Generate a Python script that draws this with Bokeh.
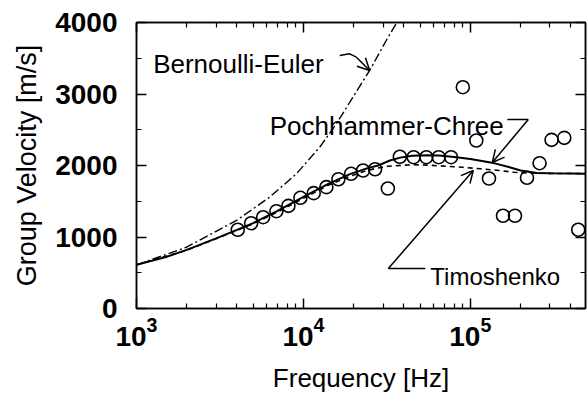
from bokeh.plotting import figure
from bokeh.models import (LogAxis, LinearAxis, Label, Arrow, OpenHead, FixedTicker,
                          SingleIntervalTicker)
from bokeh.embed import file_html
from bokeh.resources import INLINE

# ---- data ----
meas_f = [4043, 4862, 5738, 6891, 8133, 9594, 11527, 13730, 16205, 19305, 22784, 26880,
          32060, 37830, 45760, 54510, 64600, 76640, 90180, 108600, 129400, 157000,
          185200, 218600, 260000, 306800, 365600, 443300]
meas_v = [1101, 1193, 1277, 1361, 1436, 1548, 1613, 1697, 1808, 1884, 1930, 1948,
          1678, 2122, 2116, 2116, 2116, 2116, 3095, 2350, 1818, 1297,
          1297, 1828, 2032, 2359, 2387, 1101]

pc_f = [1000, 1500, 2000, 3000, 4000, 5000, 7000, 10000, 14000, 19000, 24000, 28000,
        33000, 38000, 45000, 55000, 65000, 80000, 100000, 120000, 140000, 170000,
        200000, 250000, 300000, 400000, 490000]
pc_v = [610, 720, 820, 980, 1100, 1195, 1365, 1560, 1740, 1880, 1960, 2000,
        2070, 2110, 2135, 2145, 2140, 2120, 2090, 2060, 2030, 1980,
        1930, 1895, 1890, 1888, 1886]

ti_f = [1000, 2000, 3000, 5000, 7000, 10000, 14000, 19000, 24000, 28000, 32000, 40000,
        46000, 55000, 72000, 90000, 115000, 150000, 182000, 220000, 300000, 490000]
ti_v = [610, 815, 975, 1185, 1350, 1540, 1720, 1850, 1930, 1965, 1990, 2005,
        2010, 2005, 1990, 1975, 1954, 1930, 1906, 1895, 1890, 1886]

be_f = [1000, 1992, 3971, 6281, 9078, 12530, 15760, 19840, 24950, 31410, 36900]
be_v = [610, 857, 1231, 1558, 1884, 2256, 2583, 2959, 3329, 3752, 4028]

x_major = [1e3, 1e4, 1e5]
x_minor = [m * 10 ** k for k in (3, 4, 5) for m in range(2, 10)]

FONT = "Liberation Sans"

p = figure(width=588, height=401, x_axis_type="log", x_range=(1000, 4.9e5),
           y_range=(0, 4000), output_backend="svg", toolbar_location=None,
           min_border_left=136, min_border_right=3, min_border_top=22,
           min_border_bottom=93, background_fill_color="white",
           border_fill_color="white")
p.xgrid.visible = False
p.ygrid.visible = False
p.outline_line_color = "black"
p.outline_line_width = 1.5


def style(ax, labels=True):
    ax.major_tick_in = 10
    ax.major_tick_out = 0
    ax.minor_tick_in = 5
    ax.minor_tick_out = 0
    ax.axis_line_color = "black"
    ax.axis_line_width = 1.5
    ax.major_tick_line_width = 1.5
    ax.minor_tick_line_width = 1.2
    ax.major_tick_line_color = "black"
    ax.minor_tick_line_color = "black"
    if labels:
        ax.major_label_text_font = FONT
        ax.major_label_text_font_size = "28px"
        ax.major_label_text_font_style = "bold"
        ax.major_label_text_color = "black"
        ax.axis_label_text_font = FONT
        ax.axis_label_text_font_size = "27px"
        ax.axis_label_text_font_style = "normal"
        ax.axis_label_text_color = "black"
    else:
        ax.major_label_text_font_size = "1px"
        ax.major_label_text_alpha = 0
        ax.major_label_standoff = 0


xt = FixedTicker(ticks=x_major, minor_ticks=x_minor)
yt = SingleIntervalTicker(interval=1000, num_minor_ticks=2)

xa = p.xaxis[0]
xa.ticker = xt
style(xa)
xa.axis_label = "Frequency [Hz]"
xa.major_label_standoff = 8
xa.axis_label_standoff = 14
xa.axis_label_text_font_size = "26px"

ya = p.yaxis[0]
ya.ticker = yt
style(ya)
ya.axis_label = "Group Velocity [m/s]"
ya.major_label_standoff = 19
ya.axis_label_standoff = 10

top = LogAxis(ticker=FixedTicker(ticks=x_major, minor_ticks=x_minor))
style(top, labels=False)
p.add_layout(top, "above")
right = LinearAxis(ticker=SingleIntervalTicker(interval=1000, num_minor_ticks=2))
style(right, labels=False)
p.add_layout(right, "right")

# curves
p.line(be_f, be_v, line_color="black", line_width=1.4, line_dash="9 3 2 3")
p.line(ti_f, ti_v, line_color="black", line_width=1.6, line_dash="5 4")
p.line(pc_f, pc_v, line_color="black", line_width=2)
p.scatter(meas_f, meas_v, marker="circle", size=13, fill_alpha=0,
          line_color="black", line_width=1.6)

# annotations
for txt, x, y, fs in [("Bernoulli-Euler", 1258, 3422, "26px"),
                      ("Pochhammer-Chree", 6281, 2549, "26px"),
                      ("Timoshenko", 57600, 448, "24px")]:
    p.add_layout(Label(x=x, y=y, text=txt, text_font=FONT, text_font_size=fs,
                       text_baseline="alphabetic", text_color="black"))

# leader lines
p.line([16500, 18930, 20770], [3538, 3562, 3515], line_color="black", line_width=1.5)
p.line([166600, 222500], [2643, 2643], line_color="black", line_width=1.5)
p.line([53770, 32280], [559, 559], line_color="black", line_width=1.5)

head = dict(size=12, line_width=1.5, line_color="black")
p.add_layout(Arrow(end=OpenHead(**head), x_start=20770, y_start=3515,
                   x_end=24950, y_end=3329, line_width=1.5))
p.add_layout(Arrow(end=OpenHead(**head), x_start=222500, y_start=2643,
                   x_end=135400, y_end=2042, line_width=1.5))
p.add_layout(Arrow(end=OpenHead(**head), x_start=32280, y_start=559,
                   x_end=104200, y_end=1930, line_width=1.5))

open("out.html", "w").write(file_html(p, INLINE))
